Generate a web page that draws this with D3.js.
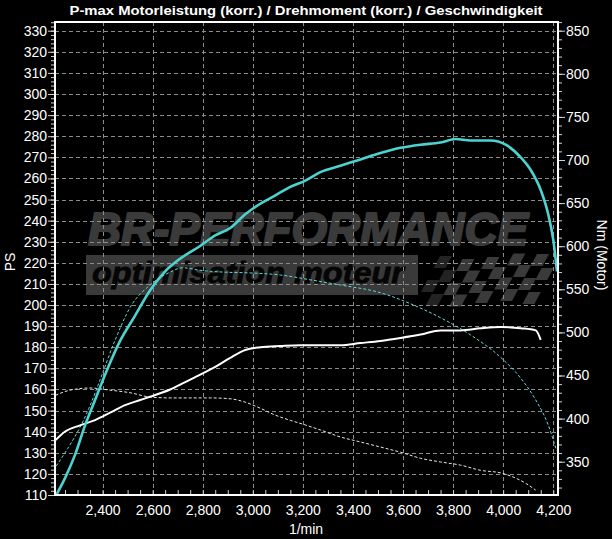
<!DOCTYPE html>
<html><head><meta charset="utf-8">
<script src="https://cdn.jsdelivr.net/npm/d3@7/dist/d3.min.js"></script>
<style>
body{margin:0;background:#000}
svg{display:block}
text{font-family:"Liberation Sans",Arial,sans-serif}
</style>
</head><body>
<svg id="chart" width="612" height="539"></svg>
<script>
// ---- chart data ----
const titleText = "P-max Motorleistung (korr.) / Drehmoment (korr.) / Geschwindigkeit";
const xLabel = "1/min";
const yLeftLabel = "PS";
const yRightLabel = "Nm (Motor)";
const rpmTicks = [2400, 2600, 2800, 3000, 3200, 3400, 3600, 3800, 4000, 4200];
const psTicks = [110,120,130,140,150,160,170,180,190,200,210,220,230,240,250,260,270,280,290,300,310,320,330];
const nmTicks = [350, 400, 450, 500, 550, 600, 650, 700, 750, 800, 850];

// tuned power (PS) - cyan solid
const tunedPowerRpm = [2215,2250,2290,2330,2370,2410,2470,2530,2590,2650,2710,2790,2850,2910,2970,3030,3090,3150,3210,3270,3350,3430,3510,3590,3670,3750,3810,3870,3950,4010,4070,4110,4150,4180,4200,4215];
const tunedPowerPS = [110,118,129,143,155,167,183,195,207,216,222,228,233,236.5,243,248,252,256,259,263,266,269,272,274.5,276,277,278.7,278,278,276,270,264,254.5,243,231,216];

// stock power (PS) - white solid
const stockPowerRpm = [2212,2249,2310,2370,2430,2490,2550,2610,2670,2730,2790,2850,2910,2970,3030,3110,3190,3270,3350,3430,3510,3590,3670,3750,3830,3910,3990,4070,4130,4150];
const stockPowerPS = [136,140,143,145.5,149,152.6,155,157.4,160,163.5,167,170.7,175,178.7,180,180.6,181,181,181,182,183,184.4,186,188,188,189,189.6,189,188,183.5];

// tuned torque (Nm) - cyan dashed
const tunedTorqueRpm = [2215,2260,2310,2350,2390,2450,2510,2590,2670,2720,2790,2880,2990,3110,3230,3350,3510,3640,3750,3870,3990,4070,4130,4180,4213];
const tunedTorqueNm = [345,365,390,415,445,491,529,555,570,575,572,570,569,566.6,561,555,546,532,517,497,471,447,421.6,392.6,363];

// stock torque (Nm) - white dashed
const stockTorqueRpm = [2212,2270,2350,2430,2510,2590,2670,2750,2830,2910,2970,3030,3090,3150,3210,3270,3350,3430,3510,3590,3670,3750,3830,3910,3990,4050,4090,4130];
const stockTorqueNm = [427,433,435.5,433,430,425,424,424,424,423,419,412,404,398,392.6,386.8,378.7,372.9,367,361,354,349.7,346,340,337,331,325,317];

// ---- layout ----
const L = 55, R = 558, T = 22, B = 495;
const svg = d3.select("#chart");
svg.append("rect").attr("width",612).attr("height",539).attr("fill","#000");

const x = d3.scaleLinear().domain([2210, 4219]).range([L, R]);
const yPS = d3.scaleLinear().domain([110, 330]).range([B, 30.7]);
const yNm = d3.scaleLinear().domain([350, 850]).range([461.7, 30.7]);

// ---- watermark ----
const wm = svg.append("g");
const wmCol = "#3a3a3a";
wm.append("text").attr("x", 88).attr("y", 245)
  .attr("font-size", 46).attr("font-weight", "bold").attr("font-style", "italic")
  .attr("fill", wmCol).attr("stroke", wmCol).attr("stroke-width", 2.2).attr("stroke-linejoin", "round")
  .attr("textLength", 440).attr("lengthAdjust", "spacingAndGlyphs")
  .text("BR-PERFORMANCE");
wm.append("rect").attr("x", 86).attr("y", 255).attr("width", 332).attr("height", 40).attr("fill", wmCol);
wm.append("text").attr("x", 92).attr("y", 283)
  .attr("font-size", 30).attr("font-weight", "bold").attr("font-style", "italic")
  .attr("fill", "#050505").attr("stroke", "#050505").attr("stroke-width", 0.8)
  .attr("textLength", 312).attr("lengthAdjust", "spacingAndGlyphs")
  .text("optimisation moteur");
// checkered flag
const flag = wm.append("g").attr("transform", "translate(418,256) skewX(-28)");
const cs = 12;
for (let r = 0; r < 4; r++) {
  for (let c = 0; c < 10; c++) {
    if ((r + c) % 2 === 0) {
      const wave = Math.sin(c * 0.7) * 3;
      flag.append("rect").attr("x", 22 + c * cs).attr("y", r * cs + wave)
        .attr("width", cs).attr("height", cs).attr("fill", wmCol)
        .attr("opacity", c < 2 ? 0.6 : 1);
    }
  }
}

// ---- grid ----
const grid = svg.append("g").attr("stroke", "#8c8c8c").attr("stroke-width", 1).attr("stroke-dasharray", "4,3");
grid.selectAll("line.h").data(psTicks.filter(d => d > 110)).join("line")
  .attr("x1", L).attr("x2", R).attr("y1", d => Math.round(yPS(d)) + 0.5).attr("y2", d => Math.round(yPS(d)) + 0.5);
grid.selectAll("line.v").data(rpmTicks).join("line")
  .attr("x1", d => Math.round(x(d)) + 0.5).attr("x2", d => Math.round(x(d)) + 0.5).attr("y1", T).attr("y2", B);

// ---- curves ----
const lineFrom = (rpms, vals, ys) => d3.line().curve(d3.curveMonotoneX)
  .x((d, i) => x(rpms[i])).y((d, i) => ys(vals[i]))(vals);

svg.append("path").attr("d", lineFrom(stockTorqueRpm, stockTorqueNm, yNm))
  .attr("fill", "none").attr("stroke", "#e8e8e8").attr("stroke-width", 1).attr("stroke-dasharray", "3,2");
svg.append("path").attr("d", lineFrom(tunedTorqueRpm, tunedTorqueNm, yNm))
  .attr("fill", "none").attr("stroke", "#5fd8d4").attr("stroke-width", 1).attr("stroke-dasharray", "3,2");
svg.append("path").attr("d", lineFrom(stockPowerRpm, stockPowerPS, yPS))
  .attr("fill", "none").attr("stroke", "#ffffff").attr("stroke-width", 2);
svg.append("path").attr("d", lineFrom(tunedPowerRpm, tunedPowerPS, yPS))
  .attr("fill", "none").attr("stroke", "#4cd3d0").attr("stroke-width", 2.6);

// ---- border ----
svg.append("rect").attr("x", L).attr("y", T).attr("width", R - L).attr("height", B - T)
  .attr("fill", "none").attr("stroke", "#fff").attr("stroke-width", 2);

// ---- axes ----
function styleAxis(g) {
  g.select(".domain").remove();
  g.selectAll("line").attr("stroke", "#d0d0d0");
  g.selectAll("text").attr("fill", "#fff").attr("font-size", 14)
    .attr("font-family", '"Liberation Sans", Arial, sans-serif');
}
svg.append("g").attr("transform", `translate(${L - 1},0)`)
  .call(d3.axisLeft(yPS).tickValues(d3.range(110, 335, 2)).tickSize(3).tickFormat(""))
  .call(styleAxis);
svg.append("g").attr("transform", `translate(${L - 1},0)`)
  .call(d3.axisLeft(yPS).tickValues(psTicks).tickSize(6).tickPadding(1))
  .call(styleAxis);
svg.append("g").attr("transform", `translate(${R + 1},0)`)
  .call(d3.axisRight(yNm).tickValues(d3.range(320, 861, 10)).tickSize(3).tickFormat(""))
  .call(styleAxis);
svg.append("g").attr("transform", `translate(${R + 1},0)`)
  .call(d3.axisRight(yNm).tickValues(nmTicks).tickSize(6).tickPadding(1))
  .call(styleAxis);
svg.append("g").attr("transform", `translate(0,${B - 1})`)
  .call(d3.axisBottom(x).tickValues(d3.range(2250, 4201, 50)).tickSize(-4).tickFormat(""))
  .call(styleAxis);
svg.append("g").attr("transform", `translate(0,${B})`)
  .call(d3.axisBottom(x).tickValues(rpmTicks).tickSize(0).tickPadding(10).tickFormat(d3.format(",")))
  .call(styleAxis);

// ---- labels ----
svg.append("text").attr("x", 306).attr("y", 15).attr("text-anchor", "middle")
  .attr("fill", "#fff").attr("font-size", 13).attr("font-weight", "bold")
  .attr("textLength", 473).attr("lengthAdjust", "spacingAndGlyphs").text(titleText);
svg.append("text").attr("x", 306).attr("y", 534).attr("text-anchor", "middle")
  .attr("fill", "#fff").attr("font-size", 14).text(xLabel);
svg.append("text").attr("transform", "translate(15,262) rotate(-90)").attr("text-anchor", "middle")
  .attr("fill", "#fff").attr("font-size", 14).text(yLeftLabel);
svg.append("text").attr("transform", "translate(597,255) rotate(90)").attr("text-anchor", "middle")
  .attr("fill", "#fff").attr("font-size", 14).text(yRightLabel);
</script>
</body></html>
